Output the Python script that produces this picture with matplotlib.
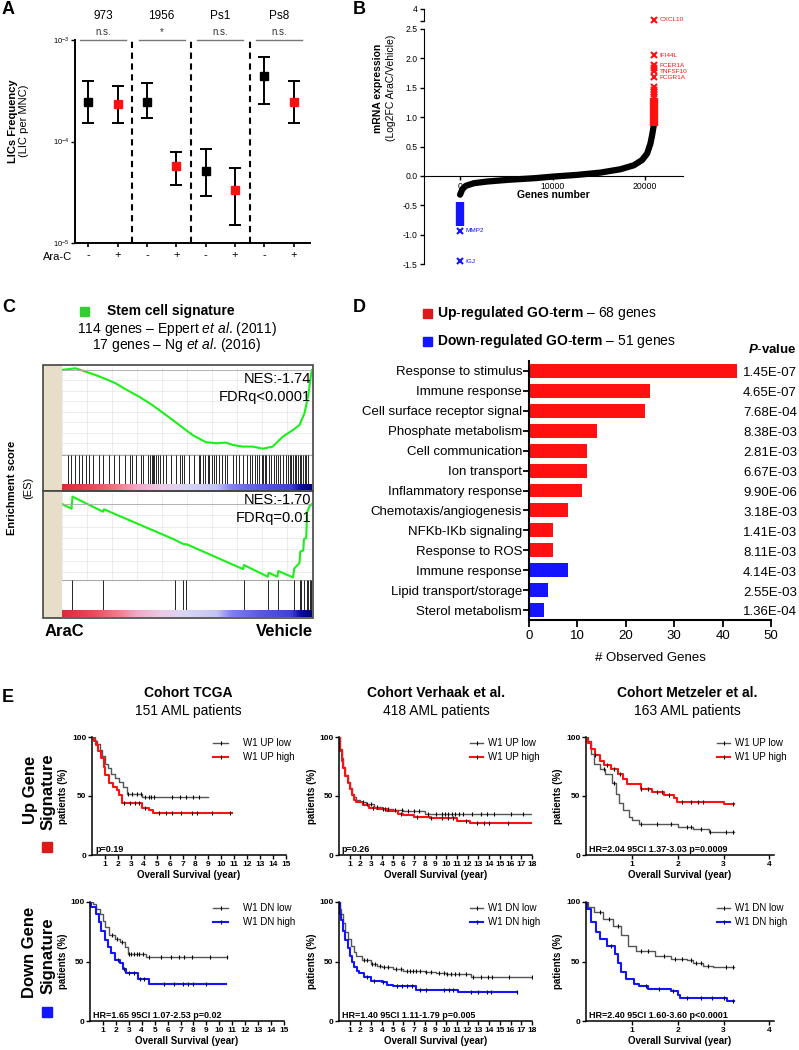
import matplotlib
matplotlib.use("Agg")
import matplotlib.pyplot as plt
import numpy as np
from matplotlib.patches import Rectangle
from matplotlib.colors import LinearSegmentedColormap

plt.rcParams['font.family'] = ['Liberation Sans', 'DejaVu Sans']
plt.rcParams['mathtext.fontset'] = 'custom'
plt.rcParams['mathtext.rm'] = 'Liberation Sans'
plt.rcParams['mathtext.it'] = 'Liberation Sans:italic'
plt.rcParams['mathtext.bf'] = 'Liberation Sans:bold'
plt.rcParams['mathtext.bfit'] = 'Liberation Sans:italic:bold'
plt.rcParams['axes.unicode_minus'] = False

# ---------------- data ----------------
# A: LIC frequency (limiting dilution)
lic_groups = ['973', '1956', 'Ps1', 'Ps8']
lic_sig = ['n.s.', '*', 'n.s.', 'n.s.']
lic_arac = ['-', '+', '-', '+', '-', '+', '-', '+']
lic_mid = [2.47e-4, 2.33e-4, 2.47e-4, 5.76e-5, 5.14e-5, 3.30e-5, 4.43e-4, 2.47e-4]
lic_lo = [1.51e-4, 1.51e-4, 1.70e-4, 3.69e-5, 2.92e-5, 1.51e-5, 2.33e-4, 1.51e-4]
lic_hi = [3.98e-4, 3.53e-4, 3.75e-4, 7.97e-5, 8.47e-5, 5.47e-5, 6.86e-4, 3.98e-4]

# B: ranked log2FC
gene_rank = [0, 250, 610, 1510, 2950, 5110, 7990, 10140, 12660, 15180,
             17340, 18780, 19680, 20220, 20580, 20760, 20940]
gene_fc = [-0.32, -0.226, -0.17, -0.124, -0.096, -0.068, -0.04, -0.011, 0.017,
           0.056, 0.113, 0.18, 0.27, 0.38, 0.55, 0.69, 0.86]
up_rank = 20950
up_dense = (0.85, 1.32)
up_named = ['CXCL10', 'IFI44L', 'FCER1A', 'TNFSF10', 'FCGR1A']
up_named_fc = [2.72, 2.05, 1.88, 1.78, 1.68]
up_other_fc = [1.83, 1.52, 1.47, 1.43, 1.39, 1.35]
dn_rank = 0
dn_dense = (-0.85, -0.45)
dn_named = ['MMP2', 'IGJ']
dn_named_fc = [-0.93, -1.45]

# C: GSEA running enrichment scores (rank fraction, ES)
es1_x = [0, 0.054, 0.094, 0.134, 0.174, 0.214, 0.254, 0.308, 0.361, 0.415, 0.469,
         0.522, 0.576, 0.616, 0.656, 0.683, 0.723, 0.763, 0.803, 0.843, 0.884,
         0.924, 0.95, 0.97, 0.984, 0.997, 1.0]
es1_y = [0, 0.008, -0.008, -0.024, -0.043, -0.063, -0.092, -0.127, -0.167, -0.214,
         -0.262, -0.31, -0.344, -0.349, -0.346, -0.357, -0.365, -0.365, -0.375,
         -0.365, -0.317, -0.286, -0.262, -0.206, -0.127, -0.016, 0.0]
hits1 = [0.024, 0.037, 0.051, 0.067, 0.080, 0.096, 0.107, 0.124, 0.147, 0.163, 0.187,
         0.207, 0.228, 0.252, 0.272, 0.281, 0.297, 0.315, 0.324, 0.344, 0.352, 0.359,
         0.364, 0.369, 0.375, 0.384, 0.391, 0.402, 0.415, 0.435, 0.455, 0.470, 0.479,
         0.489, 0.509, 0.529, 0.546, 0.553, 0.562, 0.572, 0.582, 0.589, 0.600, 0.606,
         0.616, 0.626, 0.640, 0.653, 0.660, 0.683, 0.696, 0.709, 0.723, 0.740, 0.750,
         0.759, 0.771, 0.779, 0.787, 0.798, 0.803, 0.810, 0.817, 0.827, 0.837, 0.846,
         0.857, 0.865, 0.873, 0.884, 0.894, 0.904, 0.910, 0.917, 0.924, 0.930, 0.937,
         0.945, 0.950, 0.957, 0.964, 0.971, 0.977, 0.984]
es2_x = [0, 0.038, 0.042, 0.164, 0.168, 0.448, 0.485, 0.5, 0.724, 0.728, 0.823, 0.827,
         0.861, 0.865, 0.924, 0.929, 0.95, 0.953, 0.965, 0.968, 0.977, 0.98, 0.99, 1.0]
es2_y = [0, -0.041, 0.065, -0.068, -0.047, -0.312, -0.353, -0.356, -0.574, -0.538,
         -0.641, -0.606, -0.641, -0.591, -0.647, -0.568, -0.52, -0.42, -0.41, -0.31,
         -0.30, -0.075, -0.02, 0.0]
hits2 = [0.04, 0.165, 0.45, 0.483, 0.497, 0.726, 0.825, 0.863, 0.927, 0.951, 0.955,
         0.966, 0.978, 0.985, 0.99, 0.995, 0.998]

# D: GO terms
go_terms = ['Response to stimulus', 'Immune response', 'Cell surface receptor signal',
            'Phosphate metabolism', 'Cell communication', 'Ion transport',
            'Inflammatory response', 'Chemotaxis/angiogenesis', 'NFKb-IKb signaling',
            'Response to ROS', 'Immune response', 'Lipid transport/storage',
            'Sterol metabolism']
go_counts = [43, 25, 24, 14, 12, 12, 11, 8, 5, 5, 8, 4, 3]
go_dir = ['up'] * 10 + ['down'] * 3
go_pval = ['1.45E-07', '4.65E-07', '7.68E-04', '8.38E-03', '2.81E-03', '6.67E-03',
           '9.90E-06', '3.18E-03', '1.41E-03', '8.11E-03', '4.14E-03', '2.55E-03',
           '1.36E-04']

# E: Kaplan-Meier curves (step times, survival %, last follow-up, censor times)
tcga_up_low = ([0, 0.2, 0.4, 0.6, 0.8, 1.0, 1.2, 1.5, 1.8, 2.1, 2.4, 2.7, 3.9],
               [100, 97, 94, 89, 84, 77, 74, 69, 65, 62, 58, 52, 49], 9.0,
               [2.8, 3.1, 3.5, 3.8, 4.1, 4.4, 4.6, 4.8, 6.2, 6.8, 7.3, 7.8, 8.3])
tcga_up_high = ([0, 0.15, 0.3, 0.5, 0.7, 0.9, 1.0, 1.3, 1.6, 1.9, 2.1, 2.3, 3.9, 4.4, 4.7],
                [100, 97, 93, 88, 82, 75, 68, 61, 58, 55, 51, 44, 40, 38, 36], 10.8,
                [2.5, 2.9, 3.3, 3.6, 4.1, 5.2, 5.7, 6.2, 6.9, 7.7, 8.1, 9.3, 10.7])
tcga_dn_low = ([0, 0.25, 0.5, 0.75, 1.0, 1.15, 1.5, 1.9, 2.3, 2.7, 2.95, 4.35],
               [100, 98, 94, 90, 84, 79, 72, 69, 66, 62, 56, 54], 10.6,
               [1.7, 2.1, 2.5, 3.0, 3.2, 3.4, 3.6, 3.8, 4.1, 4.6, 5.5, 6.3, 6.9, 7.3,
                7.9, 9.3, 10.6])
tcga_dn_high = ([0, 0.1, 0.5, 0.7, 0.87, 1.13, 1.4, 1.65, 1.9, 2.3, 2.55, 2.8, 3.7, 4.6],
                [100, 96, 90, 83, 76, 68, 62, 57, 51, 49, 44, 40, 35, 31], 10.5,
                [2.2, 2.6, 3.0, 3.4, 3.9, 4.2, 5.7, 6.5, 7.2, 7.6, 8.0, 9.0])
verh_up_low = ([0, 0.1, 0.25, 0.4, 0.6, 0.8, 1.0, 1.2, 1.4, 1.6, 2.0, 2.5, 3.3, 4.0, 5.0,
                6.0, 8.0],
               [100, 90, 82, 75, 68, 62, 57, 52, 49, 47, 45, 43, 41, 39, 38, 37, 35], 18.0,
               [2.2, 2.6, 3.0, 3.5, 4.1, 4.6, 5.2, 5.9, 6.4, 7.0, 7.5, 8.3, 9.0, 9.6, 9.9,
                10.2, 10.5, 10.8, 11.2, 11.6, 12.4, 13.2, 13.8, 14.5, 16.0, 17.2])
verh_up_high = ([0, 0.1, 0.25, 0.4, 0.6, 0.8, 1.0, 1.2, 1.4, 1.6, 2.2, 2.8, 3.5, 4.5, 5.5,
                 6.0, 7.0, 8.5, 11.0, 12.2],
                [100, 88, 80, 74, 67, 61, 56, 51, 47, 45, 42, 40, 39, 37, 35, 34, 32, 31,
                 29, 27], 18.0,
                [3.2, 4.3, 5.8, 7.3, 8.6, 9.6, 10.2, 10.6, 11.8, 12.9, 13.5, 14.0, 15.8])
verh_dn_low = ([0, 0.1, 0.2, 0.4, 0.6, 0.8, 1.1, 1.4, 1.6, 2.1, 3.0, 3.5, 4.0, 5.0, 6.0,
                8.0, 9.0, 10.0, 12.3],
               [100, 94, 90, 82, 75, 69, 63, 58, 55, 51, 48, 46, 45, 44, 42, 41, 40, 39.5,
                37], 18.0,
               [2.3, 2.6, 3.1, 3.4, 3.8, 4.2, 4.6, 5.3, 5.8, 6.3, 6.6, 6.9, 7.2, 7.6, 8.1,
                8.6, 9.3, 9.8, 10.1, 10.4, 10.8, 11.2, 11.8, 12.5, 13.2, 13.9, 14.3, 15.9,
                18.0])
verh_dn_high = ([0, 0.1, 0.2, 0.4, 0.6, 0.8, 1.0, 1.2, 1.4, 1.7, 1.9, 2.3, 3.0, 4.0, 4.5,
                 5.0, 7.2, 11.1],
                [100, 90, 85, 76, 68, 61, 55, 50, 45, 42, 40, 37, 34, 32.5, 30, 29, 26, 24],
                16.6,
                [2.6, 3.3, 4.1, 5.4, 5.9, 6.3, 6.8, 7.6, 8.1, 9.8, 10.3, 10.6, 12.3, 13.0,
                 13.8, 14.2, 16.6])
metz_up_low = ([0, 0.03, 0.1, 0.17, 0.31, 0.42, 0.56, 0.66, 0.73, 0.8, 0.94, 1.01, 1.15,
                2.0, 2.34, 2.69],
               [100, 97, 86, 77, 73, 69, 61, 52, 44, 38, 32, 30, 26, 24, 22, 19.5], 3.22,
               [0.4, 0.6, 1.2, 1.55, 1.85, 2.2, 2.3, 2.5, 2.7, 3.05, 3.2])
metz_up_high = ([0, 0.05, 0.1, 0.2, 0.3, 0.4, 0.55, 0.7, 0.8, 0.9, 1.19, 1.43, 1.71, 1.92,
                 1.99, 3.0],
                [100, 95, 90, 85, 80, 76, 73, 69, 64, 60.5, 56, 53.5, 51, 48, 45, 43], 3.22,
                [0.2, 0.45, 0.6, 0.75, 1.2, 1.35, 1.55, 1.65, 1.8, 2.1, 2.3, 2.45, 2.55,
                 3.2])
metz_dn_low = ([0, 0.05, 0.17, 0.38, 0.59, 0.77, 0.91, 1.08, 1.5, 1.85, 2.2, 2.34, 2.55,
                2.76],
               [100, 96, 92, 86, 80, 72, 63, 59, 55, 52, 51, 49, 46, 45], 3.22,
               [0.3, 0.5, 0.7, 1.2, 1.35, 1.7, 1.95, 2.1, 2.3, 2.4, 2.5, 2.65, 3.05, 3.2])
metz_dn_high = ([0, 0.03, 0.1, 0.21, 0.31, 0.45, 0.63, 0.7, 0.77, 0.87, 1.05, 1.15, 1.36,
                 1.85, 2.0, 2.06, 3.07],
                [100, 94, 83, 75, 69, 63, 56, 49, 41, 35, 31, 29.6, 27, 25, 22, 19, 17],
                3.22,
                [0.55, 1.3, 1.6, 1.9, 2.2, 2.5, 2.75, 3.0, 3.2])

cohorts = ['Cohort TCGA', 'Cohort Verhaak et al.', 'Cohort Metzeler et al.']
cohort_n = ['151 AML patients', '418 AML patients', '163 AML patients']
cohort_xmax = [15, 18, 4]
km_up = [(tcga_up_low, tcga_up_high), (verh_up_low, verh_up_high),
         (metz_up_low, metz_up_high)]
km_dn = [(tcga_dn_low, tcga_dn_high), (verh_dn_low, verh_dn_high),
         (metz_dn_low, metz_dn_high)]
km_up_stat = ['p=0.19', 'p=0.26', 'HR=2.04 95CI 1.37-3.03 p=0.0009']
km_dn_stat = ['HR=1.65 95CI 1.07-2.53 p=0.02', 'HR=1.40 95CI 1.11-1.79 p=0.005',
              'HR=2.40 95CI 1.60-3.60 p<0.0001']

RED = '#ff1111'
BLUE = '#1414ff'

# ---------------- figure helpers ----------------
W, H = 799, 1050
fig = plt.figure(figsize=(W / 100, H / 100), dpi=100)


def add_ax(l, t, r, b):
    return fig.add_axes([l / W, 1 - b / H, (r - l) / W, (b - t) / H])


def ftext(x, y, s, **kw):
    kw.setdefault('va', 'center')
    return fig.text(x / W, 1 - y / H, s, **kw)


def frect(l, t, r, b, **kw):
    fig.add_artist(Rectangle((l / W, 1 - b / H), (r - l) / W, (b - t) / H,
                             transform=fig.transFigure, **kw))


# panel letters
for lab, x, y in [('A', 2, 9), ('B', 353, 9), ('C', 2, 307), ('D', 353, 307), ('E', 2, 697)]:
    ftext(x, y, lab, fontsize=13, fontweight='bold')

# ---------------- A ----------------
axA = add_ax(75, 40, 310, 243)
pos = np.arange(1, 9)
for i in range(8):
    col = 'black' if lic_arac[i] == '-' else RED
    axA.errorbar(pos[i], lic_mid[i],
                 yerr=[[lic_mid[i] - lic_lo[i]], [lic_hi[i] - lic_mid[i]]],
                 fmt='none', ecolor='black', elinewidth=1.4, capsize=4, capthick=1.4)
    axA.plot(pos[i], lic_mid[i], 's', color=col, ms=6, zorder=3)
axA.set_yscale('log')
axA.set_ylim(1e-5, 1e-3)
axA.set_xlim(0.54, 8.56)
for xv in [2.5, 4.5, 6.5]:
    axA.axvline(xv, color='black', lw=1.5, ls=(0, (3, 2.2)))
for g in range(4):
    c = 1.5 + 2 * g
    axA.plot([c - 0.78, c + 0.78], [1e-3, 1e-3], color='#777777', lw=1, clip_on=False)
    axA.text(c, 1.08e-3, lic_sig[g], ha='center', va='bottom', fontsize=7, color='#333333')
    axA.text(c, 1.72e-3, lic_groups[g], ha='center', va='center', fontsize=8.5)
axA.set_xticks(pos)
axA.set_xticklabels(lic_arac, fontsize=8)
axA.minorticks_off()
axA.tick_params(axis='y', labelsize=5.5, length=3, width=1, pad=1)
axA.tick_params(axis='x', length=3, width=1.2, pad=2)
axA.text(-0.01, -0.07, 'Ara-C', transform=axA.transAxes, ha='right', va='center', fontsize=8)
for s in ['top', 'right']:
    axA.spines[s].set_visible(False)
for s in ['left', 'bottom']:
    axA.spines[s].set_linewidth(1.4)
ftext(13, 121, 'LICs Frequency', rotation=90, ha='center', fontsize=8, fontweight='bold')
ftext(24, 121, '(LIC per MNC)', rotation=90, ha='center', fontsize=8)

# ---------------- B ----------------
axB = add_ax(424, 29, 683, 264)
axB.plot(gene_rank, gene_fc, color='black', lw=4.5, solid_capstyle='round', zorder=2)
axB.vlines(up_rank, up_dense[0], up_dense[1], color=RED, lw=6, zorder=3)
axB.vlines(dn_rank, dn_dense[0], dn_dense[1], color=BLUE, lw=6, zorder=3)
axB.plot([up_rank] * len(up_other_fc), up_other_fc, 'x', color=RED, ms=4.5, mew=1.5)
for name, v in zip(up_named[1:], up_named_fc[1:]):
    axB.plot(up_rank, v, 'x', color=RED, ms=4.5, mew=1.5)
    axB.text(up_rank + 600, v, name, color=RED, fontsize=4.6, va='center')
for name, v in zip(dn_named, dn_named_fc):
    axB.plot(dn_rank, v, 'x', color=BLUE, ms=4.5, mew=1.5)
    axB.text(dn_rank + 600, v, name, color=BLUE, fontsize=4.6, va='center')
axB.set_xlim(-3900, 24100)
axB.set_ylim(-1.5, 2.5)
axB.set_yticks([-1.5, -1.0, -0.5, 0.0, 0.5, 1.0, 1.5, 2.0, 2.5])
axB.set_yticklabels(['%.1f' % v for v in [-1.5, -1.0, -0.5, 0.0, 0.5, 1.0, 1.5, 2.0, 2.5]])
axB.set_xticks([0, 10000, 20000])
axB.set_xticklabels(['0', '10000', '20000'])
axB.spines['bottom'].set_position(('data', 0))
for s in ['top', 'right']:
    axB.spines[s].set_visible(False)
axB.tick_params(labelsize=6.2, length=3, width=1, pad=1.5)
ftext(553, 195, 'Genes number', ha='center', fontsize=7.5, fontweight='bold')
ftext(378, 88, 'mRNA expression', rotation=90, ha='center', fontsize=7.5, fontweight='bold')
ftext(391, 88, '(Log2FC AraC/Vehicle)', rotation=90, ha='center', fontsize=7.5)

axB2 = add_ax(424, 9, 683, 21)
axB2.set_xlim(-3900, 24100)
axB2.set_ylim(2.6, 4.0)
axB2.plot(up_rank, up_named_fc[0], 'x', color=RED, ms=4.5, mew=1.5, clip_on=False)
axB2.text(up_rank + 600, up_named_fc[0], up_named[0], color=RED, fontsize=4.6, va='center')
axB2.set_yticks([2.6, 4.0])
axB2.set_yticklabels(['', '4'])
axB2.set_xticks([])
for s in ['top', 'right', 'bottom']:
    axB2.spines[s].set_visible(False)
axB2.tick_params(labelsize=6.2, length=3, width=1, pad=1.5)

# ---------------- C ----------------
frect(80, 307, 89, 316, color='#33cc33')
ftext(107, 311, 'Stem cell signature', fontsize=10, fontweight='bold')
ftext(177, 329, r'114 genes – Eppert $\mathit{et\ al}$. (2011)', ha='center', fontsize=10)
ftext(177, 345, r'17 genes – Ng $\mathit{et\ al}$. (2016)', ha='center', fontsize=10)

gsea_cmap = LinearSegmentedColormap.from_list(
    'gsea', [(0, '#e02a3a'), (0.12, '#e84a5a'), (0.22, '#ee7c88'), (0.3, '#f3a8c8'),
             (0.4, '#eccbe6'), (0.5, '#d6d6f6'), (0.62, '#c4c4f4'), (0.68, '#8080ec'),
             (0.8, '#5858e0'), (0.92, '#4040d4'), (0.96, '#0a0aa0'), (1.0, '#000080')])


def gsea_box(top, es_bottom, hit_bottom, bar_bottom, box_bottom, xs, ys, hits, ylim,
             yticks, fmt):
    frect(43, top, 62, box_bottom, facecolor='#e6dec8', edgecolor='none')
    ax = add_ax(62, top + 2, 312, es_bottom)
    ax.plot(xs, ys, color='#1aef1a', lw=1.5)
    ax.set_xlim(0, 1)
    ax.set_ylim(*ylim)
    ax.set_yticks(yticks)
    ax.set_yticklabels([(fmt % v).replace('.', ',') for v in yticks])
    ax.set_xticks(np.linspace(0, 1, 11))
    ax.grid(color='#e4e4e4', lw=0.5)
    ax.axhline(0, color='#aaaaaa', lw=0.6)
    ax.tick_params(axis='y', labelsize=3.5, length=0, pad=2, colors='#444444')
    ax.tick_params(axis='x', length=0, labelbottom=False)
    for s in ax.spines.values():
        s.set_visible(False)
    ax.spines['bottom'].set_visible(True)
    ax.spines['bottom'].set_color('#aaaaaa')
    hx = add_ax(62, es_bottom, 312, hit_bottom)
    hx.vlines(hits, 0, 1, color='black', lw=0.6)
    hx.set_xlim(0, 1)
    hx.set_ylim(0, 1)
    hx.axis('off')
    cx = add_ax(62, hit_bottom, 312, bar_bottom)
    cx.imshow(np.linspace(0, 1, 300)[None, :], aspect='auto', cmap=gsea_cmap,
              extent=[0, 1, 0, 1])
    cx.axis('off')
    frect(43, top, 313, box_bottom, fill=False, edgecolor='#444444', lw=1.2)


gsea_box(365, 455, 484, 490, 491, es1_x, es1_y, hits1, (-0.405, 0.014),
         [0.0, -0.05, -0.10, -0.15, -0.20, -0.25, -0.30, -0.35, -0.40], '%.2f')
gsea_box(491, 580, 610, 617, 618, es2_x, es2_y, hits2, (-0.67, 0.097),
         [0.0, -0.1, -0.2, -0.3, -0.4, -0.5, -0.6], '%.1f')
ftext(311, 379, 'NES:-1.74', ha='right', fontsize=10.5)
ftext(311, 397, 'FDRq<0.0001', ha='right', fontsize=10.5)
ftext(311, 500, 'NES:-1.70', ha='right', fontsize=10.5)
ftext(311, 518, 'FDRq=0.01', ha='right', fontsize=10.5)
ftext(45, 632, 'AraC', fontsize=12, fontweight='bold')
ftext(313, 632, 'Vehicle', ha='right', fontsize=12, fontweight='bold')
ftext(12, 488, 'Enrichment score', rotation=90, ha='center', fontsize=8, fontweight='bold')
ftext(28, 488, '(ES)', rotation=90, ha='center', fontsize=8)

# ---------------- D ----------------
frect(423, 309, 432, 318, color='#dd1a1a')
ftext(437, 313, r'$\mathbf{Up\text{-}regulated\ GO\text{-}term}$ – 68 genes', fontsize=10)
frect(423, 337, 432, 346, color=BLUE)
ftext(437, 341, r'$\mathbf{Down\text{-}regulated\ GO\text{-}term}$ – 51 genes', fontsize=10)
ftext(797, 350, r'$\mathbfit{P}$$\mathbf{\text{-}value}$', ha='right', fontsize=9.5)

axD = add_ax(529, 361, 771, 620)
rows = np.arange(len(go_terms))
axD.barh(rows, go_counts, height=0.7,
         color=[RED if d == 'up' else BLUE for d in go_dir])
axD.set_ylim(12.5, -0.5)
axD.set_xlim(0, 50)
axD.set_yticks(rows)
axD.set_yticklabels(go_terms, fontsize=9.5)
axD.set_xticks([0, 10, 20, 30, 40, 50])
axD.tick_params(axis='x', labelsize=9.5, length=5, width=1.3, pad=2)
axD.tick_params(axis='y', length=4, width=1.3, pad=1)
for s in ['top', 'right']:
    axD.spines[s].set_visible(False)
for s in ['left', 'bottom']:
    axD.spines[s].set_linewidth(1.5)
for i, p in enumerate(go_pval):
    axD.text(1.0 + 26 / 242, i + 0.12, p, transform=axD.get_yaxis_transform(),
             ha='right', va='center', fontsize=9.5, clip_on=False)
ftext(650, 658, '# Observed Genes', ha='center', fontsize=9.5)

# ---------------- E ----------------
title_x = [188, 436, 687]
for k in range(3):
    ftext(title_x[k], 693, cohorts[k], ha='center', fontsize=10, fontweight='bold')
    ftext(title_x[k], 711, cohort_n[k], ha='center', fontsize=10)

km_boxes_up = [(92, 286), (339, 532), (586, 774)]
km_boxes_dn = [(90, 284), (339, 532), (586, 774)]
ylab_x = [63, 312, 558]
leg_x = [(213, 228, 243), (470, 483, 488), (717, 730, 735)]


def km_curve(ax, curve, color, lw):
    t, s, t_end, cens = curve
    ax.step(list(t) + [t_end], list(s) + [s[-1]], where='post', color=color, lw=lw,
            zorder=2)
    idx = np.searchsorted(t, cens, side='right') - 1
    cy = [s[i] for i in idx]
    ax.plot(cens, cy, '|', color='black', ms=3, mew=0.8, zorder=3)


def km_panel(l, r, t, b, k, curves, hicol, labels, stat, ylx, lx):
    ax = add_ax(l, t, r, b)
    km_curve(ax, curves[0], '#555555', 1.0)
    km_curve(ax, curves[1], hicol, 1.5)
    ax.set_xlim(0, cohort_xmax[k] + (0.1 if k == 2 else 0))
    ax.set_ylim(0, 100)
    ax.set_yticks([0, 50, 100])
    ax.set_xticks(np.arange(1, cohort_xmax[k] + 1))
    ax.tick_params(labelsize=6, length=3, width=1, pad=1)
    for lab in ax.get_xticklabels() + ax.get_yticklabels():
        lab.set_fontweight('bold')
    for s in ['top', 'right']:
        ax.spines[s].set_visible(False)
    for s in ['left', 'bottom']:
        ax.spines[s].set_linewidth(1.1)
    ax.text(0.015, 0.05, stat, transform=ax.transAxes, fontsize=6.5, fontweight='bold',
            va='center')
    ax.set_xlabel('Overall Survival (year)', fontsize=7, fontweight='bold', labelpad=2)
    ftext(ylx, (t + b) / 2, 'patients (%)', rotation=90, ha='center', fontsize=7,
          fontweight='bold')
    for j, (lab, col, lw) in enumerate(zip(labels, ['#555555', hicol], [1.0, 1.5])):
        yy = t + 6 + 14 * j
        fig.add_artist(plt.Line2D([lx[0] / W, lx[1] / W], [1 - yy / H, 1 - yy / H],
                                  color=col, lw=lw))
        fig.add_artist(plt.Line2D([(lx[0] + lx[1]) / 2 / W], [1 - yy / H], marker='|',
                                  color='black', ms=3, mew=0.8))
        ftext(lx[2], yy, lab, fontsize=7)


for k in range(3):
    km_panel(km_boxes_up[k][0], km_boxes_up[k][1], 737, 855, k, km_up[k], RED,
             ['W1 UP low', 'W1 UP high'], km_up_stat[k], ylab_x[k], leg_x[k])
    km_panel(km_boxes_dn[k][0], km_boxes_dn[k][1], 902, 1021, k, km_dn[k], BLUE,
             ['W1 DN low', 'W1 DN high'], km_dn_stat[k], ylab_x[k], leg_x[k])

ftext(30, 790, 'Up Gene', rotation=90, ha='center', fontsize=12, fontweight='bold')
ftext(48, 792, 'Signature', rotation=90, ha='center', fontsize=12, fontweight='bold')
frect(42, 842, 52, 852, color='#dd1a1a')
ftext(30, 952, 'Down Gene', rotation=90, ha='center', fontsize=12, fontweight='bold')
ftext(48, 956, 'Signature', rotation=90, ha='center', fontsize=12, fontweight='bold')
frect(42, 1007, 52, 1017, color=BLUE)

fig.savefig('out.png', dpi=100)
